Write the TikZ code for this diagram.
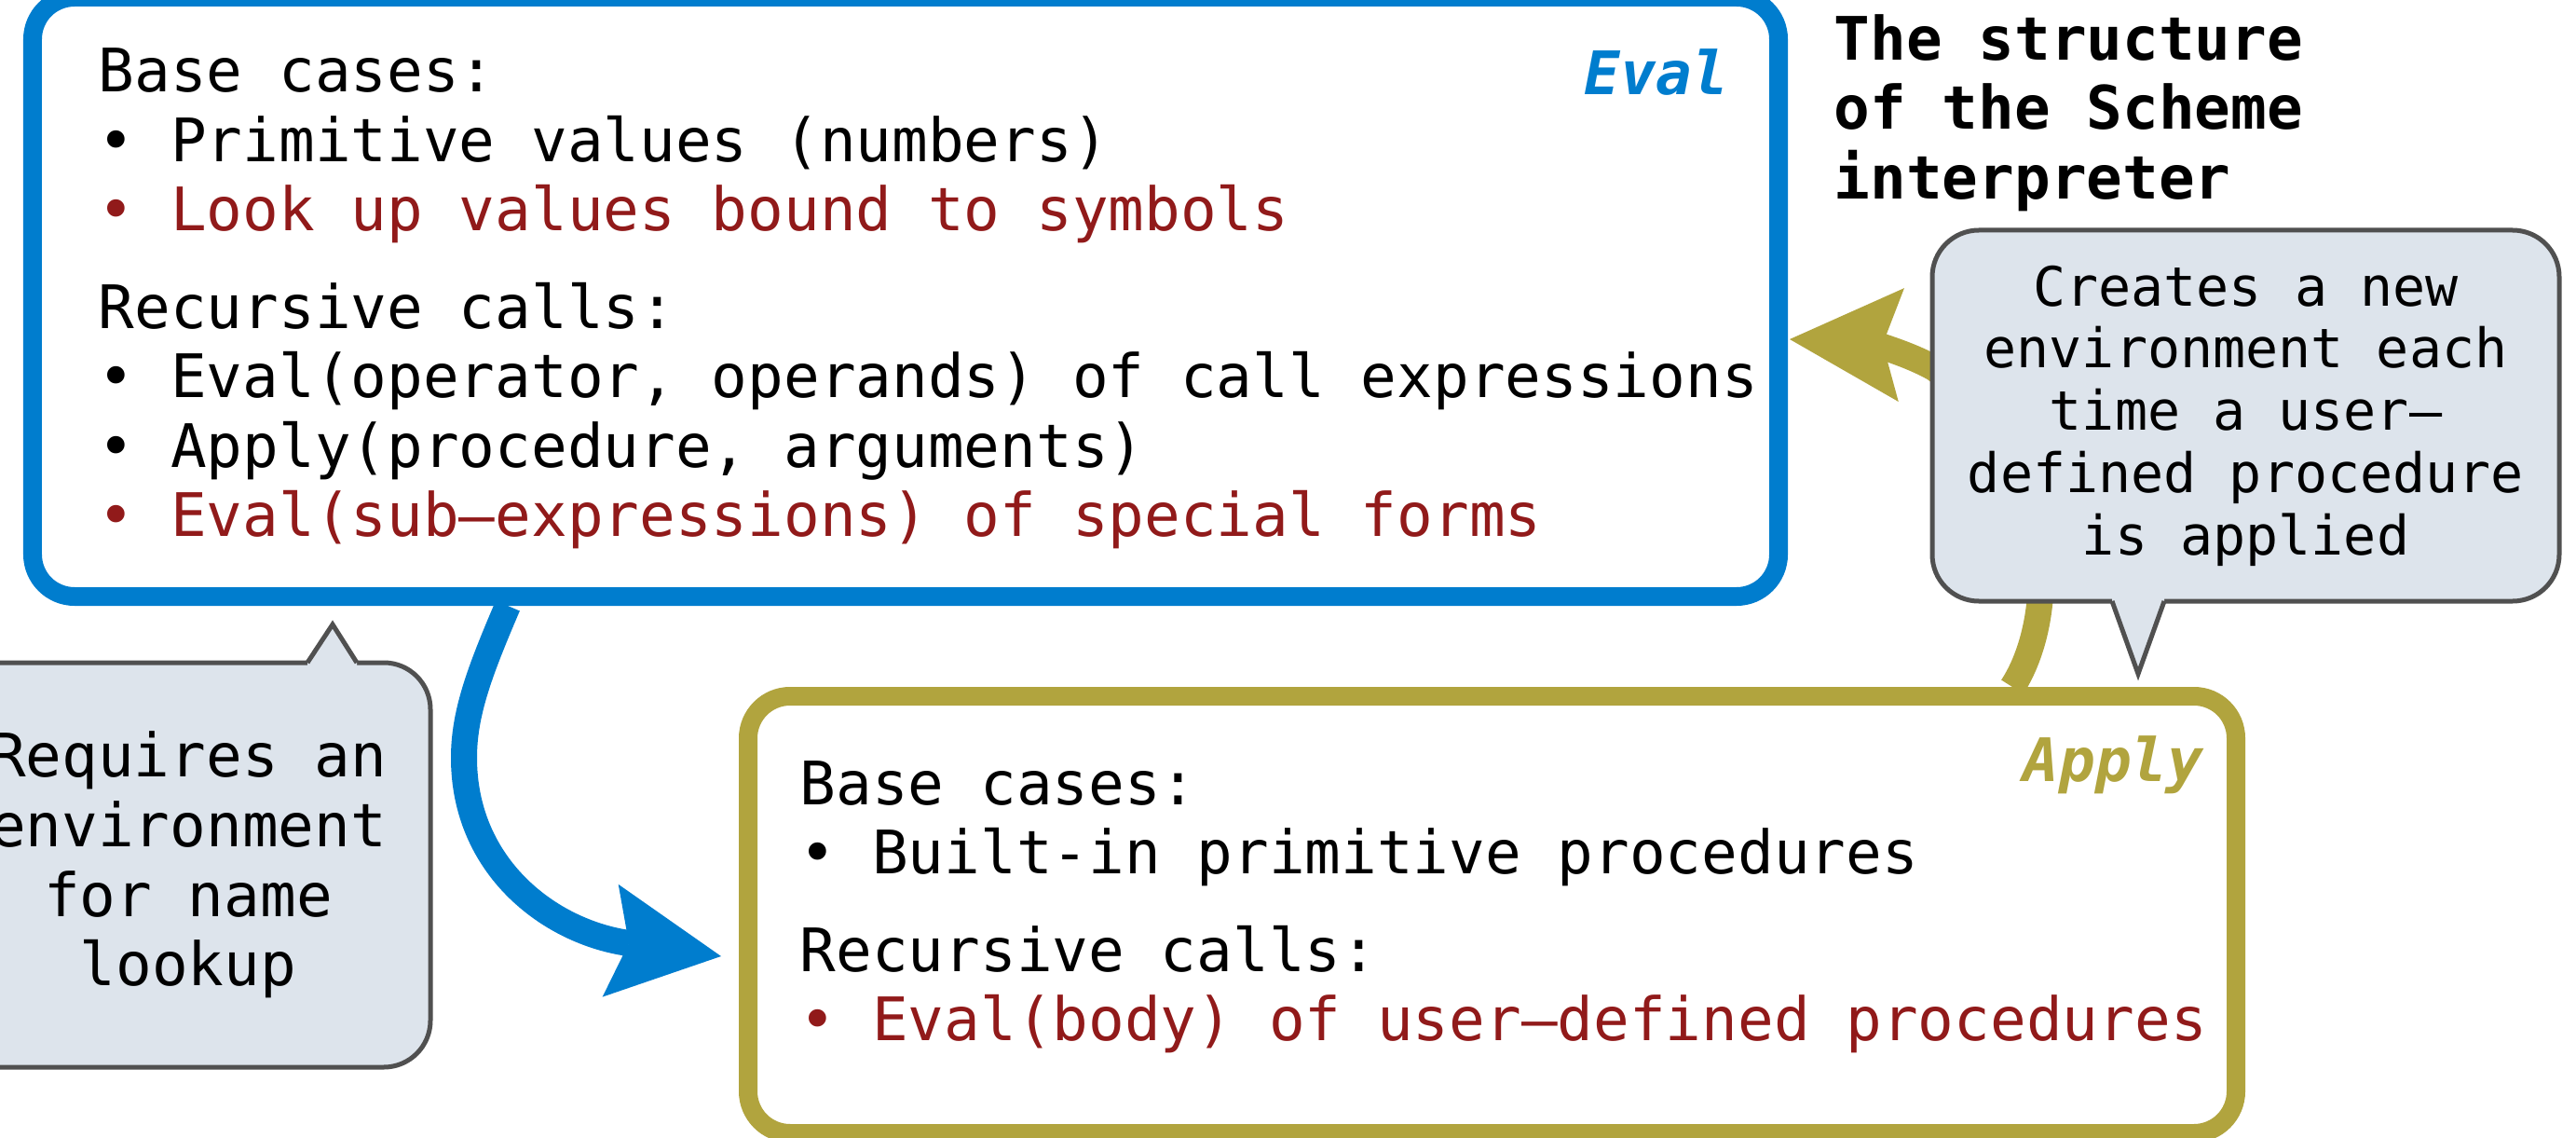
\documentclass[tikz,border=0pt]{standalone}
\usepackage{fontspec}
\setmonofont{DejaVu Sans Mono}
\usepackage{tikz}
\usetikzlibrary{arrows.meta}

\definecolor{evalblue}{RGB}{0,125,206}
\definecolor{applygold}{RGB}{177,164,62}
\definecolor{redtext}{RGB}{145,26,26}
\definecolor{notefill}{RGB}{221,228,236}
\definecolor{noteline}{RGB}{80,80,80}

\begin{document}
\begin{tikzpicture}[>={Stealth[length=1.2cm, width=1.22cm, inset=0.2cm, line width=0pt]},
	txt/.style={font=\ttfamily\fontsize{18.3}{21.2}\selectfont, inner sep=0pt, align=left},
	frame/.style={draw=#1, line width=0.2cm, rounded corners=0.45cm, inner sep=0pt},
	note/.style={draw=noteline, fill=notefill, line width=0.05cm, rounded corners=0.5cm, inner sep=0pt, align=center},
	tip/.style={draw=noteline, line width=0.05cm, line join=miter},
	flow/.style={->, line width=0.28cm}]
	%%% Page
	\path[use as bounding box, fill=white] (0,0) rectangle (27.65,12.2);
	%%% Boxes
	\node[frame=evalblue, minimum width=18.74cm, minimum height=6.43cm] (eval) at (9.72,9.015) {};
	\node[frame=applygold, minimum width=15.97cm, minimum height=4.69cm] (apply) at (16.015,2.385) {};
	\node[txt, anchor=north west] (evaltext) at (1.05,11.69) {Base cases:\\
		• Primitive values (numbers)\\
		\textcolor{redtext}{• Look up values bound to symbols}\\[0.3cm]
		Recursive calls:\\
		• Eval(operator, operands) of call expressions\\
		• Apply(procedure, arguments)\\
		\textcolor{redtext}{• Eval(sub–expressions) of special forms}};
	\node[txt, anchor=north west] (applytext) at (8.58,4.045) {Base cases:\\
		• Built-in primitive procedures\\[0.3cm]
		Recursive calls:\\
		\textcolor{redtext}{• Eval(body) of user–defined procedures}};
	\node[txt, font=\ttfamily\bfseries\itshape\fontsize{18.3}{21.2}\selectfont, text=evalblue, anchor=base east] (evallabel) at (18.56,11.18) {Eval};
	\node[txt, font=\ttfamily\bfseries\itshape\fontsize{18.3}{21.2}\selectfont, text=applygold, anchor=base east] (applylabel) at (23.66,3.82) {Apply};
	\node[txt, font=\ttfamily\bfseries\fontsize{18.3}{21.2}\selectfont, anchor=north west] (title) at (19.68,12.055) {The structure\\of the Scheme\\interpreter};
	%%% Arrows
	\draw[flow, evalblue] ([xshift=5.2cm]eval.south west) .. controls (5.15,5.0) and (4.98,4.55) .. (4.98,4.07)
		.. controls (4.98,2.9) and (5.9,2.2) .. ([xshift=-0.19cm, yshift=-0.445cm]apply.west);
	\draw[flow, applygold] ([xshift=-2.5cm]apply.north east) .. controls (22.1,5.6) and (22.1,7.3) .. (20.76,8.25)
		.. controls (20.4,8.45) and (20.0,8.52) .. ([xshift=0.02cm, yshift=-0.455cm]eval.east);
	%%% Callouts
	\node[note, font=\ttfamily\fontsize{16.6}{19}\selectfont, minimum width=6.73cm, minimum height=3.98cm] (newenv) at (24.105,7.74) {Creates a new\\environment each\\time a user–\\defined procedure\\is applied};
	\fill[notefill] (22.67,5.80) -- (22.67,5.75) -- (22.95,4.97) -- (23.23,5.75) -- (23.23,5.80) -- cycle;
	\draw[tip] (22.67,5.75) -- (22.95,4.97) -- (23.23,5.75);
	\node[note, font=\ttfamily\fontsize{18.3}{21.2}\selectfont, minimum width=5.2cm, minimum height=4.34cm] (lookup) at (2.02,2.92) {Requires an\\environment\\for name\\lookup};
	\fill[notefill] (3.30,5.04) -- (3.30,5.09) -- (3.57,5.50) -- (3.83,5.09) -- (3.83,5.04) -- cycle;
	\draw[tip] (3.30,5.09) -- (3.57,5.50) -- (3.83,5.09);
\end{tikzpicture}
\end{document}
